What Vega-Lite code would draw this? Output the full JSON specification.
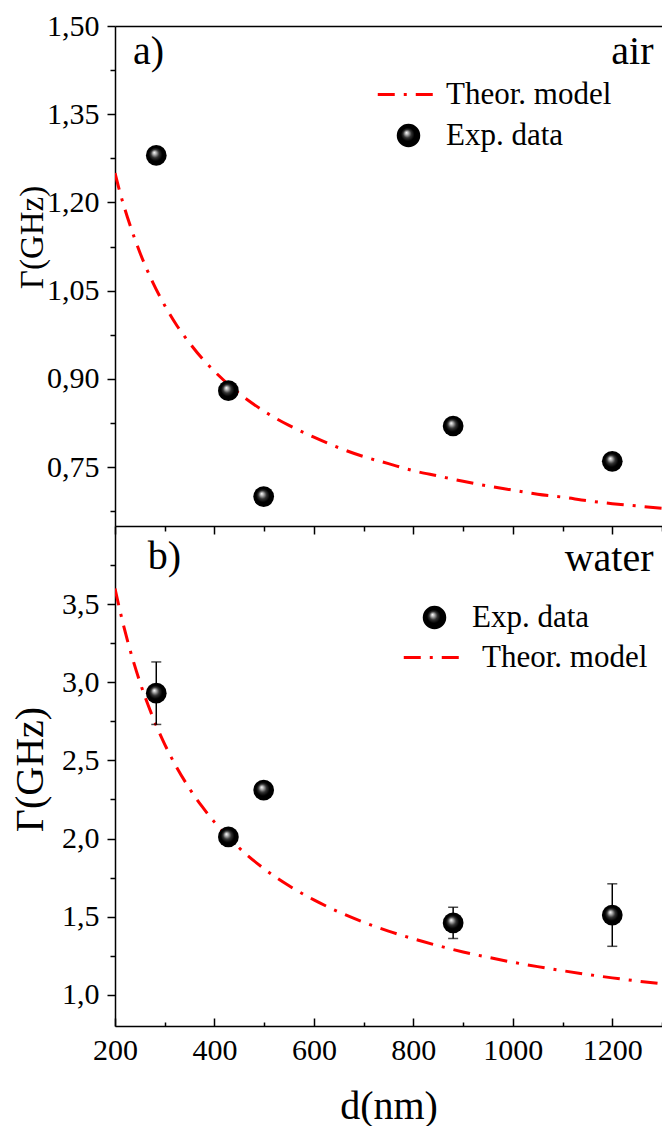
{
  "$schema": "https://vega.github.io/schema/vega-lite/v6.json",
  "background": "white",
  "padding": {"left": 10, "top": 11, "right": 0, "bottom": 0},
  "spacing": 0,
  "bounds": "flush",
  "resolve": {"scale": {"color": "independent"}, "legend": {"color": "independent"}},
  "config": {
    "font": "Liberation Serif",
    "view": {"stroke": null},
    "axis": {
      "labelFont": "Liberation Serif", "titleFont": "Liberation Serif",
      "labelColor": "black", "titleColor": "black", "domainColor": "black", "tickColor": "black",
      "grid": false, "labelFontSize": 30, "titleFontWeight": "normal",
      "domainWidth": 1.5, "tickWidth": 1.5, "labelOverlap": false, "labelFlush": false
    },
    "legend": {"padding": 0, "offset": 0, "labelFont": "Liberation Serif", "labelColor": "black", "labelFontSize": 31, "labelLimit": 0}
  },
  "datasets": {
    "air": [
      {"d": 283, "gamma": 1.28},
      {"d": 428, "gamma": 0.88},
      {"d": 499, "gamma": 0.70},
      {"d": 880, "gamma": 0.82},
      {"d": 1200, "gamma": 0.76}
    ],
    "airModel": [
      {"d": 200, "gamma": 1.250, "series": "Theor. model"},
      {"d": 210, "gamma": 1.217, "series": "Theor. model"},
      {"d": 225, "gamma": 1.175, "series": "Theor. model"},
      {"d": 250, "gamma": 1.115, "series": "Theor. model"},
      {"d": 275, "gamma": 1.066, "series": "Theor. model"},
      {"d": 300, "gamma": 1.025, "series": "Theor. model"},
      {"d": 325, "gamma": 0.990, "series": "Theor. model"},
      {"d": 350, "gamma": 0.961, "series": "Theor. model"},
      {"d": 375, "gamma": 0.935, "series": "Theor. model"},
      {"d": 400, "gamma": 0.913, "series": "Theor. model"},
      {"d": 450, "gamma": 0.875, "series": "Theor. model"},
      {"d": 500, "gamma": 0.845, "series": "Theor. model"},
      {"d": 550, "gamma": 0.821, "series": "Theor. model"},
      {"d": 600, "gamma": 0.801, "series": "Theor. model"},
      {"d": 650, "gamma": 0.783, "series": "Theor. model"},
      {"d": 700, "gamma": 0.768, "series": "Theor. model"},
      {"d": 750, "gamma": 0.756, "series": "Theor. model"},
      {"d": 800, "gamma": 0.744, "series": "Theor. model"},
      {"d": 850, "gamma": 0.735, "series": "Theor. model"},
      {"d": 900, "gamma": 0.726, "series": "Theor. model"},
      {"d": 950, "gamma": 0.718, "series": "Theor. model"},
      {"d": 1000, "gamma": 0.711, "series": "Theor. model"},
      {"d": 1050, "gamma": 0.704, "series": "Theor. model"},
      {"d": 1100, "gamma": 0.699, "series": "Theor. model"},
      {"d": 1150, "gamma": 0.693, "series": "Theor. model"},
      {"d": 1200, "gamma": 0.688, "series": "Theor. model"},
      {"d": 1250, "gamma": 0.684, "series": "Theor. model"},
      {"d": 1300, "gamma": 0.680, "series": "Theor. model"}
    ],
    "water": [
      {"d": 283, "gamma": 2.93, "lo": 2.73, "hi": 3.13},
      {"d": 428, "gamma": 2.01, "lo": 1.98, "hi": 2.04},
      {"d": 499, "gamma": 2.31},
      {"d": 880, "gamma": 1.46, "lo": 1.36, "hi": 1.56},
      {"d": 1200, "gamma": 1.51, "lo": 1.31, "hi": 1.71}
    ],
    "waterModel": [
      {"d": 200, "gamma": 3.600, "series": "Theor. model"},
      {"d": 210, "gamma": 3.458, "series": "Theor. model"},
      {"d": 225, "gamma": 3.268, "series": "Theor. model"},
      {"d": 250, "gamma": 3.002, "series": "Theor. model"},
      {"d": 275, "gamma": 2.785, "series": "Theor. model"},
      {"d": 300, "gamma": 2.603, "series": "Theor. model"},
      {"d": 325, "gamma": 2.450, "series": "Theor. model"},
      {"d": 350, "gamma": 2.319, "series": "Theor. model"},
      {"d": 375, "gamma": 2.205, "series": "Theor. model"},
      {"d": 400, "gamma": 2.105, "series": "Theor. model"},
      {"d": 450, "gamma": 1.939, "series": "Theor. model"},
      {"d": 500, "gamma": 1.806, "series": "Theor. model"},
      {"d": 550, "gamma": 1.697, "series": "Theor. model"},
      {"d": 600, "gamma": 1.607, "series": "Theor. model"},
      {"d": 650, "gamma": 1.530, "series": "Theor. model"},
      {"d": 700, "gamma": 1.464, "series": "Theor. model"},
      {"d": 750, "gamma": 1.407, "series": "Theor. model"},
      {"d": 800, "gamma": 1.358, "series": "Theor. model"},
      {"d": 850, "gamma": 1.314, "series": "Theor. model"},
      {"d": 900, "gamma": 1.274, "series": "Theor. model"},
      {"d": 950, "gamma": 1.240, "series": "Theor. model"},
      {"d": 1000, "gamma": 1.208, "series": "Theor. model"},
      {"d": 1050, "gamma": 1.180, "series": "Theor. model"},
      {"d": 1100, "gamma": 1.154, "series": "Theor. model"},
      {"d": 1150, "gamma": 1.130, "series": "Theor. model"},
      {"d": 1200, "gamma": 1.108, "series": "Theor. model"},
      {"d": 1250, "gamma": 1.088, "series": "Theor. model"},
      {"d": 1300, "gamma": 1.070, "series": "Theor. model"}
    ]
  },
  "vconcat": [
    {
      "width": 547,
      "height": 500,
      "resolve": {"axis": {"x": "independent"}},
      "layer": [
        {
          "data": {"name": "airModel"},
          "mark": {"type": "line", "strokeWidth": 3, "strokeDash": [17, 9, 3, 9], "interpolate": "monotone", "clip": true},
          "encoding": {
            "x": {"field": "d", "type": "quantitative", "scale": {"domain": [200, 1300], "nice": false, "zero": false},
              "axis": {"orient": "bottom", "values": [200, 300, 400, 500, 600, 700, 800, 900, 1000, 1100, 1200, 1300], "labels": false, "title": null,
                "tickSize": {"condition": {"test": "datum.value % 200 == 0", "value": 8}, "value": 5}}},
            "y": {"field": "gamma", "type": "quantitative", "scale": {"domain": [0.65, 1.5], "nice": false, "zero": false},
              "axis": {"values": [0.675, 0.75, 0.825, 0.9, 0.975, 1.05, 1.125, 1.2, 1.275, 1.35, 1.425, 1.5],
                "labelExpr": "round(datum.value*1000) % 150 == 0 ? replace(format(datum.value, '.2f'), '.', ',') : ''",
                "labelPadding": 8,
                "tickSize": {"condition": {"test": "round(datum.value*1000) % 150 == 0", "value": 8}, "value": 5},
                "title": "Γ(GHz)", "titleFontSize": 33, "titleX": -73, "titleY": 211, "titleBaseline": "alphabetic", "titleAlign": "center"}},
            "color": {"field": "series", "type": "nominal",
              "scale": {"domain": ["Theor. model", "Exp. data"], "range": ["#ff0000", "#000000"]},
              "legend": {"orient": "none", "legendX": 278, "legendY": 53, "title": null, "symbolSize": 420, "labelOffset": 22, "rowPadding": 9,
                "encode": {"symbols": {"update": {
                  "shape": [{"test": "datum.value === 'Theor. model'", "value": "M-3,0H3"}, {"value": "circle"}],
                  "stroke": [{"test": "datum.value === 'Theor. model'", "value": "#ff0000"}, {"value": "transparent"}],
                  "strokeWidth": {"value": 3},
                  "strokeDash": [{"test": "datum.value === 'Theor. model'", "value": [17, 9, 3, 9]}, {"value": []}],
                  "fill": [{"test": "datum.value === 'Theor. model'", "value": "transparent"},
                    {"value": {"gradient": "radial", "x1": 0.4, "y1": 0.36, "r1": 0, "x2": 0.5, "y2": 0.5, "r2": 0.5,
                      "stops": [{"offset": 0, "color": "#ffffff"}, {"offset": 0.15, "color": "#bbbbbb"}, {"offset": 0.4, "color": "#333333"}, {"offset": 0.65, "color": "#000000"}, {"offset": 1, "color": "#000000"}]}}],
                  "opacity": {"value": 1}
                }}}}}
          }
        },
        {
          "data": {"name": "air"},
          "mark": {"type": "point", "shape": "circle", "filled": true, "size": 430, "opacity": 1, "strokeWidth": 0,
            "fill": {"gradient": "radial", "x1": 0.4, "y1": 0.36, "r1": 0, "x2": 0.5, "y2": 0.5, "r2": 0.5,
              "stops": [{"offset": 0, "color": "#ffffff"}, {"offset": 0.15, "color": "#bbbbbb"}, {"offset": 0.4, "color": "#333333"}, {"offset": 0.65, "color": "#000000"}, {"offset": 1, "color": "#000000"}]}},
          "encoding": {
            "x": {"field": "d", "type": "quantitative", "scale": {"domain": [200, 1300], "nice": false, "zero": false},
              "axis": {"orient": "top", "ticks": false, "labels": false, "title": null}},
            "y": {"field": "gamma", "type": "quantitative", "title": "Γ(GHz)"}
          }
        },
        {
          "data": {"values": [{}]},
          "mark": {"type": "text", "text": "a)", "font": "Liberation Serif", "fontSize": 40, "align": "left", "baseline": "alphabetic", "color": "black"},
          "encoding": {
            "x": {"datum": 236, "type": "quantitative", "axis": null},
            "y": {"datum": 1.435, "type": "quantitative"}
          }
        },
        {
          "data": {"values": [{}]},
          "mark": {"type": "text", "text": "air", "font": "Liberation Serif", "fontSize": 40, "align": "right", "baseline": "alphabetic", "color": "black"},
          "encoding": {
            "x": {"datum": 1283, "type": "quantitative", "axis": null},
            "y": {"datum": 1.435, "type": "quantitative"}
          }
        }
      ]
    },
    {
      "width": 547,
      "height": 500,
      "layer": [
        {
          "data": {"name": "waterModel"},
          "mark": {"type": "line", "strokeWidth": 3, "strokeDash": [17, 9, 3, 9], "interpolate": "monotone", "clip": true},
          "encoding": {
            "x": {"field": "d", "type": "quantitative", "scale": {"domain": [200, 1300], "nice": false, "zero": false},
              "axis": {"orient": "bottom", "values": [200, 300, 400, 500, 600, 700, 800, 900, 1000, 1100, 1200, 1300],
                "labelExpr": "datum.value % 200 == 0 ? format(datum.value, 'd') : ''",
                "labelPadding": 17.5,
                "tickSize": {"condition": {"test": "datum.value % 200 == 0", "value": -8}, "value": -4},
                "title": "d(nm)", "titleFontSize": 40, "titleBaseline": "alphabetic", "titleY": 92}},
            "y": {"field": "gamma", "type": "quantitative", "scale": {"domain": [0.8, 4.0], "nice": false, "zero": false},
              "axis": {"values": [1, 1.25, 1.5, 1.75, 2, 2.25, 2.5, 2.75, 3, 3.25, 3.5, 3.75],
                "labelExpr": "round(datum.value*100) % 50 == 0 ? replace(format(datum.value, '.1f'), '.', ',') : ''",
                "labelPadding": 8,
                "tickSize": {"condition": {"test": "round(datum.value*100) % 50 == 0", "value": 8}, "value": 5},
                "title": "Γ(GHz)", "titleFontSize": 40, "titleX": -73, "titleY": 243, "titleBaseline": "alphabetic", "titleAlign": "center"}},
            "color": {"field": "series", "type": "nominal",
              "scale": {"domain": ["Exp. data", "Theor. model"], "range": ["#000000", "#ff0000"]},
              "legend": {"orient": "none", "legendX": 304, "legendY": 76, "title": null, "symbolSize": 420, "labelOffset": 22, "rowPadding": 7,
                "encode": {
                  "labels": {"update": {"dx": [{"test": "datum.value === 'Theor. model'", "value": 10}, {"value": 0}]}},
                  "symbols": {"update": {
                  "shape": [{"test": "datum.value === 'Theor. model'", "value": "M-3,0H3"}, {"value": "circle"}],
                  "stroke": [{"test": "datum.value === 'Theor. model'", "value": "#ff0000"}, {"value": "transparent"}],
                  "strokeWidth": {"value": 3},
                  "strokeDash": [{"test": "datum.value === 'Theor. model'", "value": [17, 9, 3, 9]}, {"value": []}],
                  "fill": [{"test": "datum.value === 'Theor. model'", "value": "transparent"},
                    {"value": {"gradient": "radial", "x1": 0.4, "y1": 0.36, "r1": 0, "x2": 0.5, "y2": 0.5, "r2": 0.5,
                      "stops": [{"offset": 0, "color": "#ffffff"}, {"offset": 0.15, "color": "#bbbbbb"}, {"offset": 0.4, "color": "#333333"}, {"offset": 0.65, "color": "#000000"}, {"offset": 1, "color": "#000000"}]}}],
                  "opacity": {"value": 1}
                }}}}}
          }
        },
        {
          "data": {"name": "water"},
          "transform": [{"filter": "isValid(datum.lo)"}],
          "mark": {"type": "errorbar", "ticks": {"size": 10, "thickness": 1.5, "color": "black"}, "rule": {"color": "black", "strokeWidth": 1.5}},
          "encoding": {
            "x": {"field": "d", "type": "quantitative", "title": "d(nm)"},
            "y": {"field": "lo", "type": "quantitative", "title": "Γ(GHz)"},
            "y2": {"field": "hi"}
          }
        },
        {
          "data": {"name": "water"},
          "mark": {"type": "point", "shape": "circle", "filled": true, "size": 430, "opacity": 1, "strokeWidth": 0,
            "fill": {"gradient": "radial", "x1": 0.4, "y1": 0.36, "r1": 0, "x2": 0.5, "y2": 0.5, "r2": 0.5,
              "stops": [{"offset": 0, "color": "#ffffff"}, {"offset": 0.15, "color": "#bbbbbb"}, {"offset": 0.4, "color": "#333333"}, {"offset": 0.65, "color": "#000000"}, {"offset": 1, "color": "#000000"}]}},
          "encoding": {
            "x": {"field": "d", "type": "quantitative", "title": "d(nm)"},
            "y": {"field": "gamma", "type": "quantitative", "title": "Γ(GHz)"}
          }
        },
        {
          "data": {"values": [{}]},
          "mark": {"type": "text", "text": "b)", "font": "Liberation Serif", "fontSize": 40, "align": "left", "baseline": "alphabetic", "color": "black"},
          "encoding": {
            "x": {"datum": 266, "type": "quantitative"},
            "y": {"datum": 3.725, "type": "quantitative"}
          }
        },
        {
          "data": {"values": [{}]},
          "mark": {"type": "text", "text": "water", "font": "Liberation Serif", "fontSize": 40, "align": "right", "baseline": "alphabetic", "color": "black"},
          "encoding": {
            "x": {"datum": 1283, "type": "quantitative"},
            "y": {"datum": 3.714, "type": "quantitative"}
          }
        }
      ]
    }
  ]
}
